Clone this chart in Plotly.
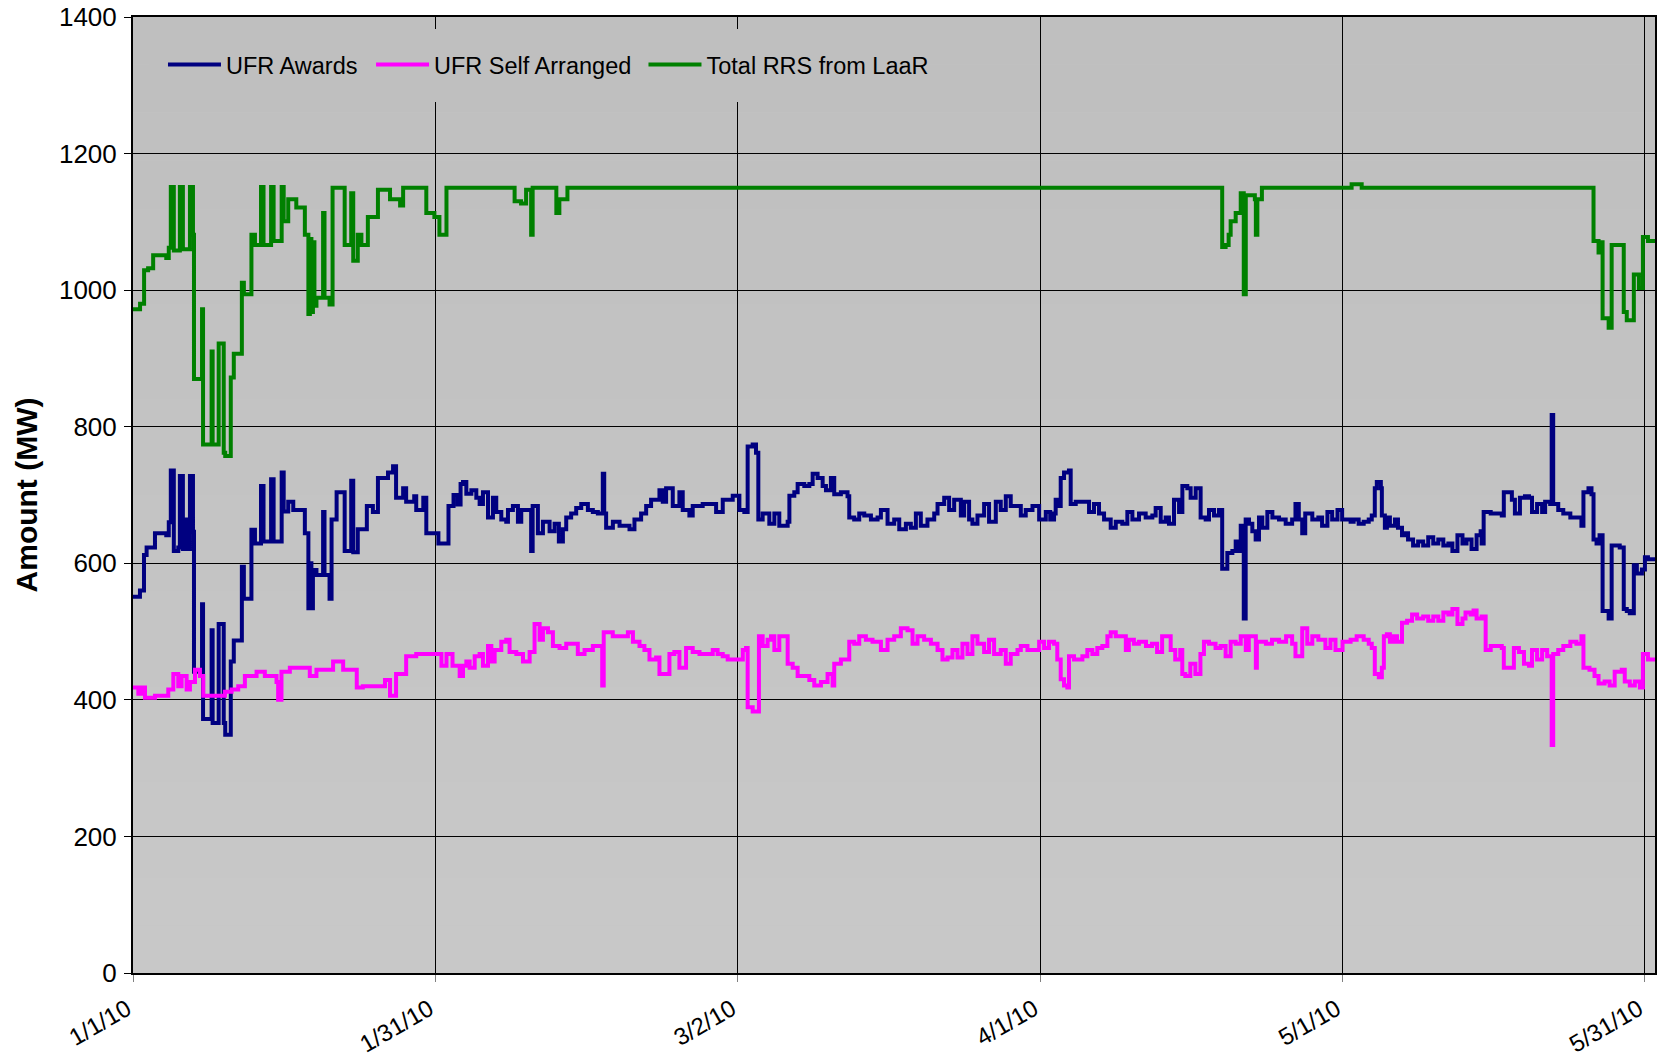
import pandas as pd
import plotly.graph_objects as go

# ---------------- data (day offset from 1/1/2010, MW) ----------------
START = "2010-01-01"

green_days = [0.0, 0.7, 1.1, 1.5, 2.0, 3.3, 3.55, 3.75, 4.05, 4.65, 4.95, 5.65, 5.95, 6.05, 6.85, 6.95,
              7.8, 7.9, 8.5, 9.0, 9.15, 9.7, 10.0, 10.8, 11.0, 11.75, 12.1, 12.7, 12.95, 13.7, 13.95,
              14.75, 14.95, 15.4, 16.2, 17.05, 17.4, 17.55, 17.7, 17.85, 18.0, 18.2, 18.86, 19.0, 19.5,
              19.8, 21.0, 21.65, 21.85, 22.3, 22.66, 23.3, 24.3, 25.5, 26.5, 26.8, 29.1, 29.9, 30.4,
              31.1, 37.86, 38.5, 39.0, 39.5, 39.65, 42.0, 42.3, 43.1, 108.06, 108.4, 108.7, 108.9,
              109.4, 109.9, 110.2, 110.4, 111.3, 111.4, 111.55, 112.0, 120.9, 121.9, 144.9, 145.4,
              145.6, 145.8, 146.4, 146.7, 147.9, 148.2, 148.9, 149.4, 149.8, 150.3, 151.0]
green_vals = [972, 980, 1029, 1032, 1051, 1047, 1062, 1151, 1058, 1151, 1060, 1151, 1081, 870, 972, 774,
              910, 774, 922, 762, 757, 872, 907, 1011, 994, 1081, 1066, 1151, 1066, 1151, 1072,
              1151, 1101, 1133, 1121, 1081, 965, 1075, 968, 1070, 977, 989, 1113, 989, 979,
              1150, 1066, 1142, 1043, 1081, 1066, 1107, 1147, 1133, 1124, 1150, 1113, 1107, 1081,
              1150, 1130, 1127, 1147, 1081, 1150, 1113, 1133, 1150, 1063, 1066, 1081, 1101,
              1113, 1142, 994, 1139, 1133, 1081, 1133, 1150, 1155, 1150, 1072, 1055,
              1070, 959, 945, 1066, 968, 956, 1023, 1003, 1078, 1072, 1072]

blue_days = [0.0, 0.69, 1.09, 1.35, 2.18, 3.3, 3.55, 3.75, 4.05, 4.49, 4.65, 4.95, 5.15, 5.35, 5.65, 5.95,
             6.05, 6.85, 6.95, 7.8, 7.9, 8.5, 9.0, 9.15, 9.7, 10.0, 10.8, 11.0, 11.75, 12.1, 12.7, 12.95,
             13.7, 13.95, 14.75, 14.95, 15.4, 15.9, 17.05, 17.4, 17.55, 17.7, 17.85, 18.2, 18.86, 19.0,
             19.5, 19.7, 20.2, 21.0, 21.65, 21.85, 22.3, 23.2, 23.8, 24.3, 25.3, 25.8, 26.1, 26.8, 27.1,
             27.9, 28.1, 28.8, 29.1, 30.3, 31.3, 31.8, 32.2, 32.5, 32.74, 33.07, 33.57, 34.06, 34.39,
             34.72, 35.22, 35.71, 36.04, 36.54, 37.03, 37.2, 37.69, 38.19, 38.52, 39.18, 39.5, 39.65,
             40.17, 40.67, 41.33, 41.83, 42.25, 42.65, 42.98, 43.47, 43.97, 44.47, 45.13, 45.62, 46.12,
             46.61, 46.75, 46.94, 47.61, 48.27, 49.26, 49.75, 50.41, 50.91, 51.4, 52.23, 52.56, 52.89,
             53.55, 54.21, 54.54, 55.2, 55.53, 56.52, 57.52, 57.85, 58.51, 59.5, 60.16, 60.65, 60.98,
             61.48, 61.81, 62.04, 62.47, 63.13, 63.63, 64.12, 64.62, 64.95, 65.12, 65.61, 65.94, 66.6,
             67.1, 67.43, 67.92, 68.42, 68.75, 69.24, 69.57, 70.23, 70.89, 71.06, 71.55, 72.05, 72.55,
             73.21, 73.87, 74.2, 74.86, 75.52, 76.02, 76.68, 77.17, 77.67, 78.16, 78.82, 79.49, 79.82,
             80.48, 80.97, 81.47, 82.13, 82.46, 82.95, 83.28, 83.78, 84.44, 84.93, 85.6, 86.09, 86.59,
             87.08, 87.58, 88.08, 88.57, 89.24, 89.9, 90.56, 91.0, 91.38, 91.54, 91.87, 92.04, 92.37,
             92.86, 93.03, 93.53, 94.19, 94.85, 95.34, 95.84, 96.34, 97.0, 97.5, 98.15, 98.65, 99.15,
             99.81, 100.47, 101.13, 101.46, 101.96, 102.45, 102.78, 103.28, 103.78, 104.11, 104.6,
             104.93, 105.43, 105.92, 106.42, 106.75, 107.25, 107.74, 108.06, 108.57, 109.07, 109.4,
             109.73, 109.9, 110.2, 110.39, 110.72, 111.05, 111.38, 111.71, 112.04, 112.54, 113.04,
             113.7, 114.36, 115.0, 115.33, 115.66, 116.0, 116.3, 117.0, 117.6, 117.97, 118.5, 118.97,
             119.5, 119.96, 120.8, 121.1, 121.6, 122.1, 122.6, 122.9, 123.2, 123.4, 123.8, 123.9,
             124.2, 124.4, 124.7, 125.2, 125.5, 125.9, 126.2, 126.5, 127.0, 127.5, 128.0, 128.5, 129.0,
             129.5, 130.0, 130.5, 130.9, 131.4, 131.9, 132.3, 132.8, 133.3, 133.7, 133.8, 134.0, 134.7,
             135.3, 135.8, 136.0, 136.5, 136.8, 137.1, 137.6, 138.1, 138.5, 138.8, 139.3, 139.8, 140.1,
             140.6, 140.75, 140.9, 141.4, 141.9, 142.6, 143.2, 143.7, 143.9, 144.4, 144.7, 144.9,
             145.2, 145.5, 145.8, 146.4, 146.7, 147.5, 147.9, 148.2, 148.5, 148.9, 149.2, 149.7,
             150.0, 150.3, 151.0]
blue_vals = [551, 560, 612, 623, 644, 641, 660, 736, 618, 623, 728, 621, 664, 621, 728, 646,
             441, 540, 372, 502, 366, 511, 366, 349, 456, 487, 595, 548, 649, 629, 713, 632,
             723, 632, 733, 676, 690, 678, 644, 534, 600, 534, 590, 583, 675, 583,
             548, 664, 704, 618, 721, 616, 650, 684, 675, 725, 733, 742, 696, 710, 690,
             698, 678, 696, 644, 629, 684, 700, 686, 716, 719, 702, 707, 696, 687,
             704, 667, 696, 675, 664, 661, 678, 684, 661, 678, 678, 618, 684,
             644, 661, 647, 658, 632, 650, 667, 673, 681, 687, 678, 675, 673,
             731, 673, 652, 661, 655, 650, 664, 673, 684, 693, 707, 690, 710,
             684, 704, 678, 670, 684, 687, 687, 675, 693, 699, 678, 675, 771,
             774, 762, 664, 673, 658, 673, 655, 655, 661, 699, 704, 716, 713,
             716, 731, 725, 713, 707, 725, 701, 704, 698, 667, 664, 673, 670,
             664, 667, 678, 658, 664, 650, 658, 652, 673, 655, 664, 673, 687,
             696, 678, 693, 670, 690, 664, 658, 670, 687, 661, 690, 678, 698,
             684, 684, 670, 678, 684, 664, 675, 664, 673, 693, 684, 725, 733,
             736, 687, 690, 690, 675, 687, 673, 664, 652, 661, 658, 675, 664,
             673, 667, 670, 681, 661, 667, 658, 693, 675, 713, 710,
             696, 710, 667, 664, 678, 670, 678, 592, 615, 618, 632,
             618, 655, 519, 664, 658, 647, 635, 667, 652, 675, 667,
             664, 658, 664, 687, 664, 644, 673, 664, 667, 655, 675, 664,
             678, 664, 661, 664, 658, 661, 664, 670, 710, 719, 710, 670,
             652, 667, 655, 664, 652, 641, 644, 635, 626, 632, 626, 638, 629,
             635, 626, 629, 618, 641, 629, 635, 621, 641, 647, 629, 675, 673,
             673, 670, 704, 704, 693, 673, 696, 698, 696, 675, 687, 675, 690,
             687, 817, 687, 678, 673, 667, 667, 655, 704, 710, 701, 635,
             629, 641, 530, 519, 626, 623, 533, 530, 527, 597, 585, 591,
             609, 606, 609]

pink_days = [0.0, 0.53, 0.86, 1.19, 2.18, 3.5, 4.0, 4.49, 4.82, 5.32, 5.65, 6.15, 6.64, 6.97, 9.12, 9.78,
             10.44, 11.1, 12.26, 13.08, 14.24, 14.4, 14.73, 15.56, 17.54, 18.2, 19.85, 20.85, 22.2, 22.8,
             25.0, 25.5, 26.1, 27.1, 28.1, 30.6, 31.1, 31.7, 32.41, 32.74, 33.07, 33.4, 33.9, 34.39,
             34.72, 35.22, 35.55, 35.88, 36.54, 37.03, 37.36, 38.03, 38.69, 39.35, 39.84, 40.34, 40.67,
             41.17, 41.66, 42.32, 42.98, 43.64, 44.13, 44.8, 45.62, 46.55, 46.7, 47.6, 48.27, 49.1,
             49.6, 50.25, 50.74, 51.24, 51.9, 52.23, 52.72, 53.22, 53.71, 54.21, 54.87, 55.53, 56.2,
             56.85, 57.52, 58.0, 58.51, 59.0, 59.83, 60.5, 60.82, 60.98, 61.48, 62.1, 62.47, 62.96,
             63.3, 63.63, 64.12, 64.62, 64.95, 65.45, 65.94, 66.6, 67.1, 67.59, 68.25, 68.91, 69.41,
             69.57, 70.23, 70.73, 71.06, 71.55, 72.05, 72.71, 73.37, 74.2, 74.86, 75.52, 76.18, 76.84,
             77.34, 77.83, 78.49, 79.16, 79.82, 80.31, 80.81, 81.3, 81.8, 82.29, 82.79, 83.28, 83.78,
             84.44, 84.93, 85.43, 86.09, 86.59, 87.08, 87.75, 88.08, 88.74, 89.4, 89.9, 90.39, 90.88,
             91.38, 91.7, 92.04, 92.37, 92.7, 92.86, 93.36, 94.19, 94.68, 95.18, 95.67, 96.17, 96.67,
             97.0, 97.5, 98.0, 98.5, 98.8, 99.3, 99.8, 100.5, 101.1, 101.6, 102.1, 102.6, 102.95,
             103.4, 103.9, 104.1, 104.4, 104.9, 105.4, 105.9, 106.25, 106.75, 107.4, 107.9, 108.4,
             108.9, 109.4, 109.9, 110.4, 110.7, 111.2, 111.4, 111.5, 112.4, 113.0, 113.7, 114.4,
             115.0, 115.33, 116.0, 116.5, 117.0, 117.6, 118.3, 118.8, 119.3, 120.0, 120.8, 121.4,
             122.1, 122.6, 122.9, 123.2, 123.6, 123.9, 124.1, 124.4, 124.7, 125.1, 125.4, 125.9,
             126.4, 126.9, 127.4, 128.0, 128.5, 129.0, 129.5, 130.0, 130.5, 130.9, 131.4, 131.9,
             132.2, 132.7, 133.0, 133.3, 133.8, 134.2, 134.7, 135.3, 135.8, 136.0, 136.5, 137.0,
             137.5, 138.0, 138.5, 138.8, 139.3, 139.8, 140.3, 140.75, 140.9, 141.4, 141.9, 142.6,
             143.2, 143.7, 143.9, 144.5, 145.0, 145.4, 146.0, 146.5, 147.0, 147.7, 148.0, 148.5,
             149.0, 149.5, 149.8, 150.3, 151.0]
pink_vals = [418, 409, 418, 403, 406, 415, 438, 420, 435, 415, 426, 444, 435, 406, 412, 415,
             420, 435, 441, 435, 426, 400, 441, 447, 435, 444, 456, 444, 418, 420,
             429, 406, 438, 464, 467, 450, 467, 450, 435, 450, 456, 447, 464, 467,
             450, 479, 456, 473, 485, 488, 470, 467, 456, 470, 511, 488, 505,
             499, 479, 476, 482, 482, 467, 473, 479, 421, 499, 493, 493, 499,
             485, 479, 473, 459, 462, 438, 438, 467, 470, 447, 476, 470, 467,
             467, 473, 467, 464, 459, 459, 473, 476, 389, 383, 493, 479, 488,
             493, 473, 493, 493, 453, 447, 435, 435, 429, 421, 426, 438, 421,
             453, 459, 459, 485, 482, 493, 488, 485, 473, 488, 493, 505, 502,
             482, 493, 488, 482, 473, 459, 462, 473, 462, 482, 467, 493, 482,
             470, 488, 467, 473, 453, 467, 473, 479, 473, 473, 485, 476, 485,
             482, 459, 430, 421, 418, 464, 459, 464, 473, 467, 476, 479, 493,
             499, 493, 493, 473, 488, 482, 485, 479, 482, 470, 493, 493, 473,
             459, 473, 438, 435, 453, 438, 467, 485, 482, 476, 479, 464,
             485, 482, 493, 473, 493, 493, 447, 485, 482, 488, 485, 493,
             482, 464, 505, 482, 493, 488, 476, 488, 473, 485, 488, 493,
             488, 482, 476, 438, 433, 447, 493, 496, 485, 493, 485, 513,
             516, 525, 519, 522, 516, 522, 516, 528, 525, 533, 511, 519,
             528, 525, 531, 519, 522, 473, 479, 479, 476, 447, 447, 476,
             470, 453, 450, 473, 459, 473, 464, 334, 467, 473, 479, 485,
             482, 493, 447, 444, 435, 424, 427, 421, 441, 444, 427, 421,
             427, 418, 467, 459, 459]

series_names = ["UFR Awards", "UFR Self Arranged", "Total RRS from LaaR"]
series_colors = ["#000080", "#FF00FF", "#008000"]

tick_dates = ["2010-01-01", "2010-01-31", "2010-03-02", "2010-04-01", "2010-05-01", "2010-05-31"]
tick_labels = ["1/1/10", "1/31/10", "3/2/10", "4/1/10", "5/1/10", "5/31/10"]
y_ticks = [0, 200, 400, 600, 800, 1000, 1200, 1400]


def to_dates(days):
    return pd.Timestamp(START) + pd.to_timedelta(days, unit="D")


fig = go.Figure()
legend_ids = ["legend", "legend2", "legend3"]
for name, color, d, v, lg in [
    (series_names[0], series_colors[0], blue_days, blue_vals, legend_ids[0]),
    (series_names[1], series_colors[1], pink_days, pink_vals, legend_ids[1]),
    (series_names[2], series_colors[2], green_days, green_vals, legend_ids[2]),
]:
    fig.add_trace(go.Scatter(
        x=to_dates(d), y=v, name=name, mode="lines", legend=lg,
        line=dict(color=color, width=4, shape="hv"),
    ))

# background gradient bands (top slightly darker than bottom)
n_bands = 20
shapes = []
for i in range(n_bands):
    g = int(round(200 - (200 - 191) * i / (n_bands - 1)))
    shapes.append(dict(type="rect", xref="paper", yref="paper",
                       x0=0, x1=1, y0=i / n_bands, y1=(i + 1) / n_bands,
                       fillcolor=f"rgb({g},{g},{g})", line=dict(width=0), layer="below"))
# legend background box (hides gridlines behind legend)
shapes.append(dict(type="rect", xref="paper", yref="paper",
                   x0=0.011, x1=0.52, y0=0.911, y1=0.9874,
                   fillcolor="rgb(191,191,191)", line=dict(width=0), layer="above"))

FONT = "Arial, 'Liberation Sans', sans-serif"
LEG_FONT = dict(size=23.5, family=FONT, color="black")
leg_common = dict(orientation="h", yanchor="top", xanchor="left", y=0.973,
                  bgcolor="rgba(0,0,0,0)", font=LEG_FONT, itemwidth=53)

fig.update_layout(
    width=1658, height=1057,
    margin=dict(l=133, r=3, t=17, b=84),
    paper_bgcolor="white",
    plot_bgcolor="#c4c4c4",
    font=dict(family=FONT, color="black", size=22),
    shapes=shapes,
    showlegend=True,
    legend=dict(x=0.0197, **leg_common),
    legend2=dict(x=0.1564, **leg_common),
    legend3=dict(x=0.3354, **leg_common),
    xaxis=dict(
        type="date", automargin=False,
        range=["2010-01-01", "2010-06-01"],
        tickmode="array", tickvals=tick_dates, ticktext=tick_labels,
        tickangle=-30, tickfont=dict(size=24),
        ticks="outside", ticklen=7, tickcolor="#808080",
        ticklabelstandoff=4, ticklabelshift=-6,
        showgrid=True, gridcolor="black", gridwidth=1,
        showline=True, linecolor="black", linewidth=2, mirror=True,
        zeroline=False,
    ),
    yaxis=dict(
        automargin=False,
        range=[0, 1400], tickvals=y_ticks,
        tickfont=dict(size=26),
        ticks="outside", ticklen=7, tickcolor="black",
        ticklabelstandoff=2,
        showgrid=True, gridcolor="black", gridwidth=1,
        showline=True, linecolor="black", linewidth=2, mirror=True,
        zeroline=False,
        title=dict(text="<b>Amount (MW)</b>", font=dict(size=30), standoff=12),
    ),
)

fig.write_html("out.html", config={"displayModeBar": False},
               post_script="document.body.style.margin='0';document.body.style.overflow='hidden';")
